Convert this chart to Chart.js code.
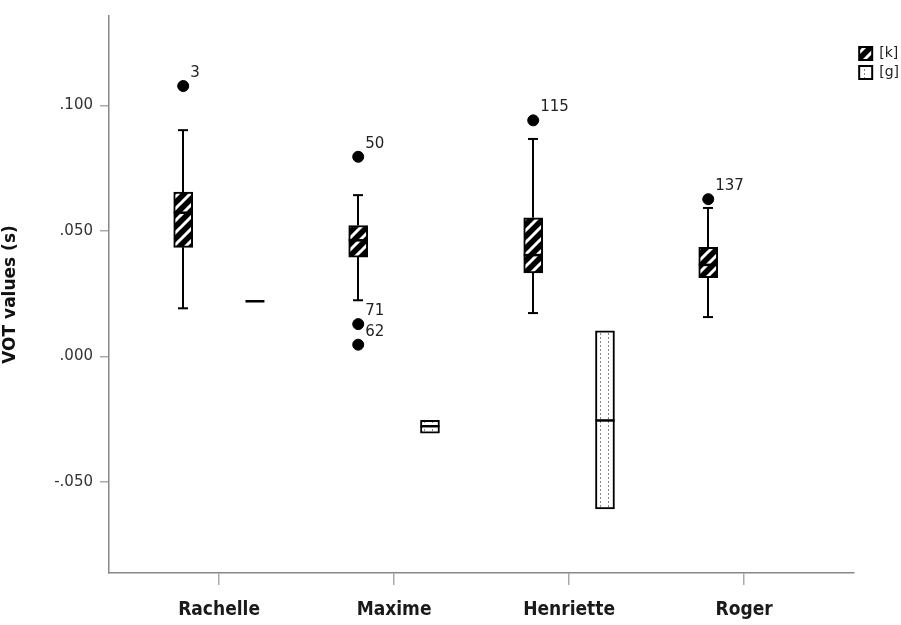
<!DOCTYPE html>
<html>
<head>
<meta charset="utf-8">
<script src="https://cdn.jsdelivr.net/npm/chart.js@4"></script>
<style>
  html, body { margin: 0; padding: 0; background: #fff; }
</style>
</head>
<body>
<canvas id="myChart" width="901" height="625"></canvas>
<script>
// speakers on the x axis
const speakers = ["Rachelle", "Maxime", "Henriette", "Roger"];

// [k] boxes
const kMin = [0.0192, 0.0224, 0.0173, 0.0157];
const kQ1  = [0.0435, 0.0396, 0.0333, 0.0314];
const kMed = [0.0573, 0.0463, 0.0404, 0.0365];
const kQ3  = [0.0655, 0.0522, 0.0553, 0.0435];
const kMax = [0.0902, 0.0643, 0.0867, 0.0592];

// [g] boxes (Roger has none)
const gMin = [0.0220, -0.0306, -0.0608, null];
const gQ1  = [0.0220, -0.0306, -0.0608, null];
const gMed = [0.0220, -0.0278, -0.0255, null];
const gQ3  = [0.0220, -0.0255, 0.0102, null];
const gMax = [0.0220, -0.0255, 0.0102, null];

// outliers ([k] only)
const outSpeaker = [0, 1, 1, 1, 2, 3];
const outValue   = [0.1078, 0.0796, 0.0129, 0.0047, 0.0941, 0.0627];
const outCase    = ["3", "50", "71", "62", "115", "137"];

const yTicks = [-0.05, 0, 0.05, 0.1];

const SHIFT = 0.205;
const FONT = "'DejaVu Sans', sans-serif";
const COND = "'DejaVu Sans Condensed', 'DejaVu Sans', sans-serif";

function hatchPattern() {
    const c = document.createElement("canvas");
    c.width = 12; c.height = 12;
    const g = c.getContext("2d");
    g.fillStyle = "#000";
    g.fillRect(0, 0, 12, 12);
    g.strokeStyle = "#fff";
    g.lineWidth = 3;
    g.beginPath();
    g.moveTo(-6, 6); g.lineTo(6, -6);
    g.moveTo(0, 12); g.lineTo(12, 0);
    g.moveTo(6, 18); g.lineTo(18, 6);
    g.stroke();
    return g.createPattern(c, "repeat");
}

function dotPattern() {
    const c = document.createElement("canvas");
    c.width = 8; c.height = 4;
    const g = c.getContext("2d");
    g.fillStyle = "#fff";
    g.fillRect(0, 0, 8, 4);
    g.fillStyle = "#888";
    g.fillRect(0, 1, 1, 2);
    return g.createPattern(c, "repeat");
}

function fmt(v) {
    const s = Math.abs(v).toFixed(3).replace(/^0/, "");
    return v < -1e-9 ? "-" + s : s;
}

const groups = [
    { min: kMin, q1: kQ1, med: kMed, q3: kQ3, max: kMax, shift: -SHIFT, ds: 0 },
    { min: gMin, q1: gQ1, med: gMed, q3: gQ3, max: gMax, shift: SHIFT, ds: 1 }
];

function boxData(grp) {
    const rows = [];
    grp.q1.forEach((q1, i) => {
        if (q1 == null) return;
        rows.push({ x: i + 1 + grp.shift, y: [q1, grp.q3[i]], idx: i });
    });
    return rows;
}

// whiskers behind the boxes, medians and case labels on top
const boxPlotPlugin = {
    id: "boxPlot",
    beforeDatasetsDraw(chart) {
        const { ctx, scales: { x, y } } = chart;
        ctx.save();
        ctx.strokeStyle = "#000";
        ctx.lineWidth = 2;
        groups.forEach(grp => {
            grp.min.forEach((mn, i) => {
                if (mn == null) return;
                const px = Math.round(x.getPixelForValue(i + 1 + grp.shift));
                const segs = [[mn, grp.q1[i]], [grp.q3[i], grp.max[i]]];
                segs.forEach(([a, b]) => {
                    if (Math.abs(a - b) < 1e-6) return;
                    ctx.beginPath();
                    ctx.moveTo(px, y.getPixelForValue(a));
                    ctx.lineTo(px, y.getPixelForValue(b));
                    ctx.stroke();
                });
                [mn, grp.max[i]].forEach((v, k) => {
                    if (Math.abs(v - (k === 0 ? grp.q1[i] : grp.q3[i])) < 1e-6) return;
                    const py = y.getPixelForValue(v);
                    ctx.beginPath();
                    ctx.moveTo(px - 5, py);
                    ctx.lineTo(px + 5, py);
                    ctx.stroke();
                });
            });
        });
        ctx.restore();
    },
    afterDatasetsDraw(chart) {
        const { ctx, scales: { y } } = chart;
        ctx.save();
        ctx.strokeStyle = "#000";
        ctx.lineWidth = 2.5;
        groups.forEach(grp => {
            const meta = chart.getDatasetMeta(grp.ds);
            meta.data.forEach((bar, j) => {
                const i = chart.data.datasets[grp.ds].data[j].idx;
                const py = y.getPixelForValue(grp.med[i]);
                ctx.beginPath();
                ctx.moveTo(bar.x - bar.width / 2, py);
                ctx.lineTo(bar.x + bar.width / 2, py);
                ctx.stroke();
            });
        });
        // case numbers next to outliers
        const pts = chart.getDatasetMeta(2).data;
        ctx.fillStyle = "#222";
        ctx.font = "15px " + FONT;
        ctx.textAlign = "left";
        ctx.textBaseline = "middle";
        pts.forEach((p, j) => {
            ctx.fillText(outCase[j], p.x + 7, p.y - 13);
        });
        ctx.restore();
    }
};

new Chart(document.getElementById("myChart").getContext("2d"), {
    type: "bar",
    data: {
        datasets: [{
            label: "[k]",
            data: boxData(groups[0]),
            backgroundColor: hatchPattern(),
            borderColor: "#000",
            borderWidth: 2,
            borderSkipped: false,
            barThickness: 19,
            grouped: false
        }, {
            label: "[g]",
            data: boxData(groups[1]),
            backgroundColor: dotPattern(),
            borderColor: "#000",
            borderWidth: 2,
            borderSkipped: false,
            barThickness: 19,
            grouped: false
        }, {
            type: "scatter",
            label: "outliers",
            data: outValue.map((v, j) => ({ x: outSpeaker[j] + 1 - SHIFT, y: v })),
            backgroundColor: "#000",
            borderColor: "#000",
            pointRadius: 5.5,
            pointHoverRadius: 5.5
        }]
    },
    options: {
        responsive: false,
        animation: false,
        layout: { padding: { top: 7, right: -8, left: 0, bottom: 0 } },
        scales: {
            x: {
                type: "linear",
                min: 0.371,
                max: 4.629,
                offset: false,
                afterFit: s => { s.height = 52; },
                afterBuildTicks: s => { s.ticks = speakers.map((_, i) => ({ value: i + 1 })); },
                grid: { offset: false, drawOnChartArea: false, drawTicks: true, tickLength: 12, color: "#aaa", lineWidth: 1.5 },
                border: { display: true, color: "#888", width: 1.5 },
                ticks: {
                    callback: v => speakers[v - 1],
                    color: "#1a1a1a",
                    padding: 14,
                    font: { family: COND, size: 19, weight: "bold" },
                    maxRotation: 0
                }
            },
            y: {
                min: -0.0863,
                max: 0.1357,
                afterFit: s => { s.width = 109; },
                afterBuildTicks: s => { s.ticks = yTicks.map(v => ({ value: v })); },
                grid: { drawOnChartArea: false, drawTicks: true, tickLength: 9, color: "#aaa", lineWidth: 1.5 },
                border: { display: true, color: "#888", width: 1.5 },
                ticks: {
                    callback: v => fmt(v),
                    color: "#333",
                    padding: 7,
                    font: { family: FONT, size: 15 }
                },
                title: {
                    display: true,
                    text: "VOT values (s)",
                    color: "#111",
                    font: { family: FONT, size: 17, weight: "bold" },
                    padding: { top: 0, bottom: 0 }
                }
            }
        },
        plugins: {
            legend: {
                display: true,
                position: "right",
                align: "start",
                title: { display: true, text: "", padding: { top: 20, bottom: 0 } },
                labels: {
                    filter: item => item.datasetIndex < 2,
                    boxWidth: 13,
                    boxHeight: 13,
                    padding: 5,
                    color: "#222",
                    font: { family: FONT, size: 14 }
                }
            },
            tooltip: { enabled: false }
        }
    },
    plugins: [boxPlotPlugin]
});
</script>
</body>
</html>
